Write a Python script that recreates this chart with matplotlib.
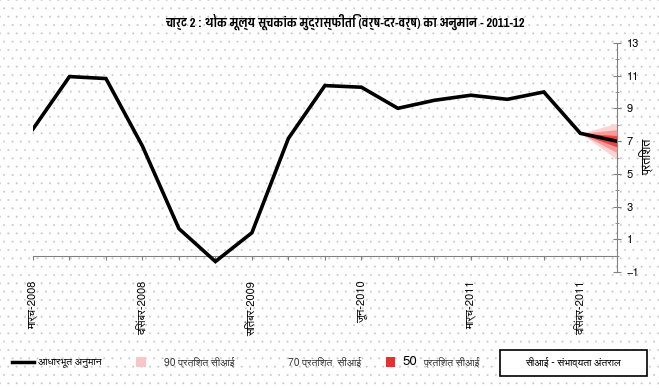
import matplotlib
matplotlib.use("Agg")
import matplotlib.pyplot as plt
from matplotlib.patches import Rectangle
from matplotlib.lines import Line2D

plt.rcParams['font.family'] = ['FreeSans', 'DejaVu Sans']
plt.rcParams['hatch.linewidth'] = 0.2

# quarterly WPI inflation, March 2008 .. March 2012 (last point = projection)
months = ['मार्च-2008', 'जून-2008', 'सितंबर-2008', 'दिसंबर-2008',
          'मार्च-2009', 'जून-2009', 'सितंबर-2009', 'दिसंबर-2009',
          'मार्च-2010', 'जून-2010', 'सितंबर-2010', 'दिसंबर-2010',
          'मार्च-2011', 'जून-2011', 'सितंबर-2011', 'दिसंबर-2011', 'मार्च-2012']
inflation = [7.74, 10.95, 10.83, 6.70, 1.65, -0.36, 1.40, 7.17, 10.40,
             10.30, 9.01, 9.50, 9.81, 9.56, 10.01, 7.48, 7.00]
shown_labels = ['मार्च-2008', 'दिसंबर-2008', 'सितंबर-2009', 'जून-2010',
                'मार्च-2011', 'दिसंबर-2011']

# fan chart (confidence intervals) from Dec 2011 to Mar 2012
fan_idx = [15, 16]
ci90_lo = [7.48, 5.90]
ci90_hi = [7.48, 8.10]
ci70_lo = [7.48, 6.30]
ci70_hi = [7.48, 7.70]
ci50_lo = [7.48, 6.65]
ci50_hi = [7.48, 7.35]

title = 'चार्ट 2 : थोक मूल्य सूचकांक मुद्रास्फीति (वर्ष-दर-वर्ष) का अनुमान - 2011-12'

fig = plt.figure(figsize=(6.59, 3.88), dpi=100)
# dotted background like the excel pattern fill
bg = Rectangle((0, 0), 1, 1, transform=fig.transFigure, facecolor='white',
               edgecolor='#c8c8c8', hatch='..', linewidth=0, zorder=-10)
fig.add_artist(bg)

ax = fig.add_axes([0.050, 0.299, 0.886, 0.590])
ax.patch.set_alpha(0)

x = list(range(len(inflation)))
ax.fill_between(fan_idx, ci90_lo, ci90_hi, color='#fcd3d3', lw=0, zorder=2)
ax.fill_between(fan_idx, ci70_lo, ci70_hi, color='#f89a9a', lw=0, zorder=3)
ax.fill_between(fan_idx, ci50_lo, ci50_hi, color='#e84545', lw=0, zorder=4)
ax.plot(x, inflation, color='black', lw=2.6, zorder=5, solid_joinstyle='miter')

ax.set_xlim(0, len(inflation) - 1)
ax.set_ylim(-1, 13)

ax.spines['left'].set_visible(False)
ax.spines['top'].set_visible(False)
ax.spines['bottom'].set_position(('data', 0))
ax.spines['bottom'].set_color('#808080')
ax.spines['right'].set_color('#808080')

ax.set_xticks(x, [m if m in shown_labels else '' for m in months],
              rotation=90, fontsize=8)
ax.tick_params(axis='x', direction='out', length=3, color='#808080', pad=15)

ax.yaxis.tick_right()
ax.set_yticks(range(-1, 14, 2))
ax.set_yticks(range(-1, 14), minor=True)
ax.tick_params(axis='y', which='major', direction='inout', length=6,
               color='#808080', labelsize=8, pad=4)
ax.tick_params(axis='y', which='minor', direction='inout', length=3,
               color='#808080')
fig.text(0.980, 0.595, 'प्रतिशत', rotation=90, ha='center', va='center',
         fontsize=9)

fig.text(0.523, 0.943, title, ha='center', va='center', fontsize=9.8,
         fontweight='bold', family=['Pragati Narrow', 'FreeSans'])

# legend strip
ly = 0.067
fig.add_artist(Line2D([0.018, 0.052], [ly, ly], color='black', lw=2.5,
                      transform=fig.transFigure))
fig.text(0.057, ly, 'आधारभूत अनुमान', va='center', fontsize=7.5)
fig.add_artist(Rectangle((0.207, ly - 0.014), 0.014, 0.028, transform=fig.transFigure,
                         facecolor='#f7c6c6', edgecolor='none'))
fig.text(0.249, ly, '90 प्रतिशत सीआई', va='center', fontsize=7.5, color='#333333')
fig.text(0.437, ly, '70 प्रतिशत  सीआई', va='center', fontsize=7.5, color='#333333')
fig.add_artist(Rectangle((0.586, ly - 0.014), 0.014, 0.028, transform=fig.transFigure,
                         facecolor='#e53030', edgecolor='none'))
fig.text(0.611, ly, '50', va='center', fontsize=9.5)
fig.text(0.642, ly, 'प्रतिशत सीआई', va='center', fontsize=7.5, color='#333333')
fig.add_artist(Rectangle((0.759, 0.031), 0.223, 0.067, transform=fig.transFigure,
                         facecolor='white', edgecolor='black', lw=1.2))
fig.text(0.870, 0.065, 'सीआई - संभाव्यता अंतराल', ha='center', va='center',
         fontsize=7.5)

fig.savefig('out.png', dpi=100)
